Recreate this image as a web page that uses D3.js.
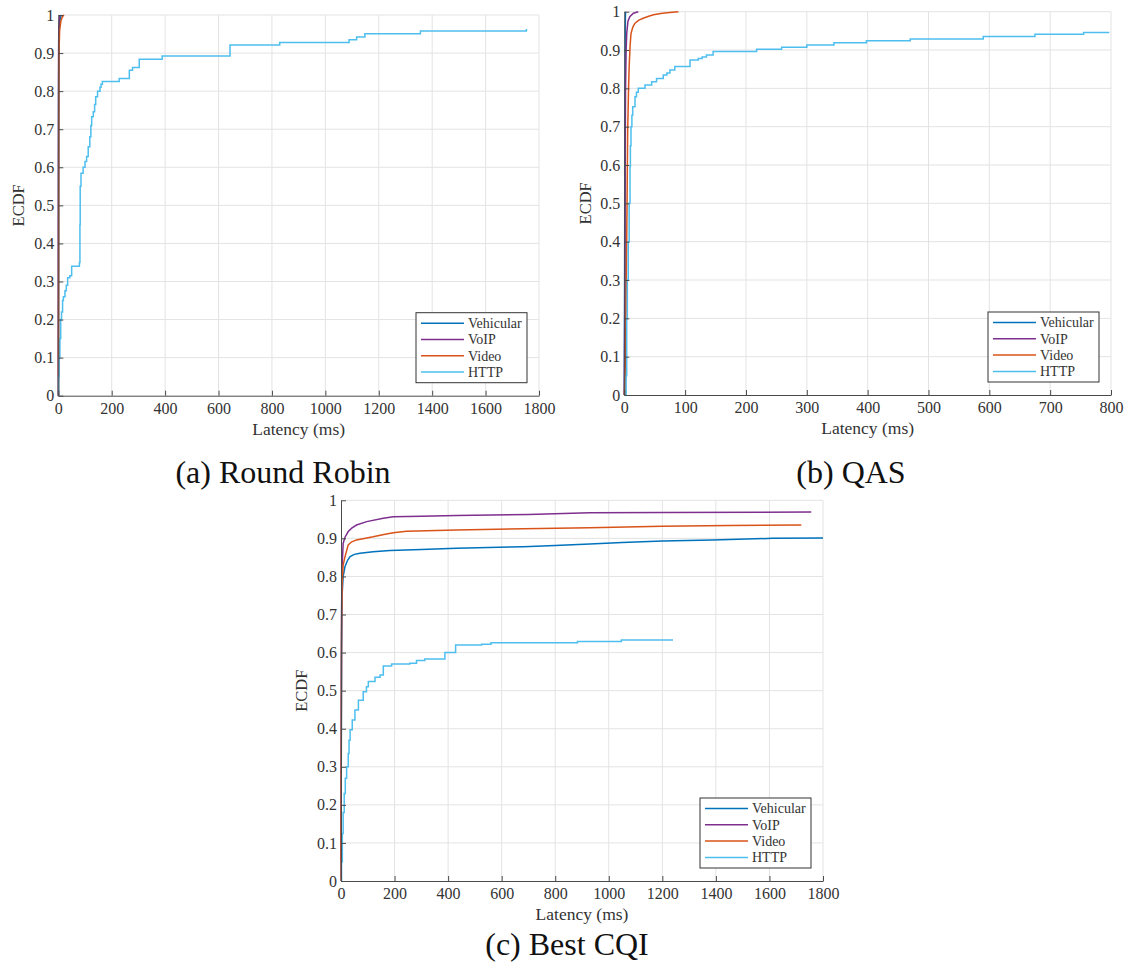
<!DOCTYPE html>
<html>
<head>
<meta charset="utf-8">
<script src="https://cdn.jsdelivr.net/npm/d3@7"></script>
<style>
  body { margin: 0; background: #fff; }
  svg text { font-family: "Liberation Serif", "Times New Roman", serif; }
</style>
</head>
<body>
<svg id="fig" width="1126" height="976"></svg>
<script>
'use strict';

// ---- data: [latency ms, ECDF] ----
var seriesNames = ["Vehicular", "VoIP", "Video", "HTTP"];
var seriesColors = ["#0072BD", "#7E2F8E", "#D95319", "#4DBEEE"];
var yTicks = [0, 0.1, 0.2, 0.3, 0.4, 0.5, 0.6, 0.7, 0.8, 0.9, 1];
var xTicksLong = [0, 200, 400, 600, 800, 1000, 1200, 1400, 1600, 1800];
var xTicksQas = [0, 100, 200, 300, 400, 500, 600, 700, 800];

// (a) Round Robin
var rrVehicular = [[0,0],[0.5,0.5],[1,0.8],[2,0.9],[4,0.97],[7,0.99],[11,1]];
var rrVoip = [[0,0],[0.5,0.6],[1,0.9],[2,0.97],[4,0.99],[6,1]];
var rrVideo = [[0,0],[0.8,0.3],[1.5,0.7],[2.5,0.9],[5,0.96],[10,0.985],[15,0.995],[21,1]];
var rrHttp = [[0,0],[1,0.05],[3,0.1],[6,0.15],[9,0.2],[12,0.22],[16,0.25],[19,0.26],[25,0.276],
  [30,0.29],[35,0.31],[43,0.315],[50,0.34],[79,0.35],[81,0.45],[82,0.55],[85,0.584],[93,0.6],
  [100,0.615],[106,0.628],[112,0.654],[118,0.68],[122,0.71],[125,0.733],[131,0.746],[136,0.765],
  [140,0.785],[147,0.8],[156,0.81],[160,0.818],[165,0.825],[228,0.833],[266,0.855],[278,0.862],
  [303,0.884],[389,0.892],[643,0.921],[829,0.928],[1089,0.935],[1117,0.942],[1148,0.951],
  [1356,0.958],[1753,0.963]];

// (b) QAS
var qasVehicular = [[0,0],[0.5,0.3],[1,0.7],[1.5,0.95],[2,1]];
var qasVoip = [[0,0],[1,0.3],[1.5,0.6],[2,0.796],[3,0.9],[4,0.944],[6,0.975],[9,0.987],[15,0.996],[23,1]];
var qasVideo = [[0,0],[2,0.1],[3,0.27],[4,0.404],[5.5,0.683],[7,0.8],[8,0.857],[9.5,0.91],[11,0.943],
  [14,0.96],[17.6,0.97],[24,0.978],[31,0.983],[40,0.988],[48,0.992],[60,0.995],[70,0.997],[89,1]];
var qasHttp = [[0,0],[3,0.05],[4,0.2],[5,0.3],[6.5,0.4],[8,0.5],[9.4,0.596],[10,0.65],[11,0.7],
  [12.5,0.73],[13.8,0.752],[17.6,0.778],[20,0.79],[23,0.8],[34,0.809],[45,0.817],[53,0.826],
  [64,0.835],[70,0.84],[75,0.848],[83,0.857],[108,0.874],[121.6,0.878],[128,0.882],[135,0.887],
  [146,0.896],[217.5,0.902],[258.6,0.907],[300,0.913],[344.6,0.919],[398,0.924],[470,0.929],
  [590,0.935],[675,0.941],[755,0.946],[796,0.948]];

// (c) Best CQI
var cqiVehicular = [[0,0],[1,0.3],[2,0.6],[4,0.75],[8,0.8],[15,0.826],[25,0.843],[34,0.852],[50,0.858],
  [71,0.861],[120,0.865],[183,0.868],[300,0.871],[431,0.874],[550,0.876],[680,0.878],[800,0.881],
  [929,0.885],[1050,0.889],[1200,0.893],[1387,0.896],[1612,0.9],[1800,0.901]];
var cqiVoip = [[0,0],[1,0.4],[2,0.7],[4,0.82],[8,0.887],[15,0.903],[27,0.918],[40,0.927],[58,0.935],
  [96,0.944],[158,0.953],[195,0.957],[300,0.958],[431,0.96],[700,0.963],[929,0.967],[1200,0.968],[1756,0.969]];
var cqiVideo = [[0,0],[1,0.35],[2,0.65],[4,0.78],[8,0.83],[15,0.852],[27,0.883],[40,0.891],[58,0.896],
  [120,0.904],[160,0.91],[195,0.915],[245,0.919],[431,0.922],[680,0.925],[929,0.928],[1200,0.932],
  [1450,0.934],[1719,0.935]];
var cqiHttp = [[0,0],[2,0.05],[5,0.125],[8,0.18],[12,0.23],[16,0.27],[21,0.3],[27,0.335],[30,0.37],
  [34,0.397],[42,0.423],[52,0.449],[65,0.475],[83,0.497],[95,0.51],[102,0.524],[127,0.535],[146,0.541],
  [158,0.565],[189,0.57],[257,0.572],[282,0.579],[313,0.583],[388,0.6],[428,0.62],[525,0.622],
  [560,0.626],[883,0.629],[1047,0.633],[1240,0.633]];

var svg = d3.select("#fig");
var axisColor = "#4a4a4a", gridColor = "#e3e3e3", textColor = "#333";

function drawPanel(cfg){
  var x = d3.scaleLinear().domain([0, cfg.xMax]).range([cfg.left, cfg.right]);
  var y = d3.scaleLinear().domain([0, 1]).range([cfg.bottom, cfg.top]);
  var g = svg.append("g");

  // grid
  g.append("g").selectAll("line").data(cfg.xTicks.slice(1)).enter().append("line")
    .attr("x1", function(d){ return x(d); }).attr("x2", function(d){ return x(d); })
    .attr("y1", cfg.top).attr("y2", cfg.bottom)
    .attr("stroke", gridColor).attr("stroke-width", 1);
  g.append("g").selectAll("line").data(yTicks.slice(1)).enter().append("line")
    .attr("x1", cfg.left).attr("x2", cfg.right)
    .attr("y1", function(d){ return y(d); }).attr("y2", function(d){ return y(d); })
    .attr("stroke", gridColor).attr("stroke-width", 1);

  // curves (HTTP drawn as a staircase)
  cfg.series.forEach(function(s, i){
    var line = d3.line()
      .x(function(d){ return x(d[0]); })
      .y(function(d){ return y(d[1]); })
      .curve(i === 3 ? d3.curveStepAfter : d3.curveLinear);
    g.append("path").datum(s)
      .attr("d", line)
      .attr("fill", "none")
      .attr("stroke", seriesColors[i])
      .attr("stroke-width", 1.5);
  });

  // axes
  var xa = g.append("g").attr("transform", "translate(0," + cfg.bottom + ")")
    .call(d3.axisBottom(x).tickValues(cfg.xTicks).tickFormat(d3.format("d"))
      .tickSizeInner(-5).tickSizeOuter(0).tickPadding(7));
  var ya = g.append("g").attr("transform", "translate(" + cfg.left + ",0)")
    .call(d3.axisLeft(y).tickValues(yTicks).tickFormat(function(d){ return d === 0 || d === 1 ? d : d.toFixed(1); })
      .tickSizeInner(-5).tickSizeOuter(0).tickPadding(4));
  [xa, ya].forEach(function(a){
    a.select(".domain").attr("stroke", axisColor);
    a.selectAll(".tick line").attr("stroke", axisColor);
    a.selectAll("text").attr("fill", textColor)
      .style("font-family", "'Liberation Serif', serif").style("font-size", "16px");
  });

  g.append("text")
    .attr("x", (cfg.left + cfg.right) / 2).attr("y", cfg.bottom + 39)
    .attr("text-anchor", "middle").attr("fill", textColor)
    .style("font-size", "17.5px").text("Latency (ms)");
  g.append("text")
    .attr("transform", "translate(" + cfg.ylabX + "," + ((cfg.top + cfg.bottom) / 2) + ") rotate(-90)")
    .attr("text-anchor", "middle").attr("dy", "0.35em").attr("fill", textColor)
    .style("font-size", "16.5px").text("ECDF");

  // legend
  var lw = 111, lh = 70;
  var lx = cfg.right - 12 - lw, ly = cfg.bottom - 13 - lh;
  var leg = g.append("g").attr("transform", "translate(" + lx + "," + ly + ")");
  leg.append("rect").attr("width", lw).attr("height", lh)
    .attr("fill", "#fff").attr("stroke", "#333").attr("stroke-width", 1);
  seriesNames.forEach(function(n, i){
    var ry = 10.5 + i * 16.3;
    leg.append("line").attr("x1", 5).attr("x2", 48).attr("y1", ry).attr("y2", ry)
      .attr("stroke", seriesColors[i]).attr("stroke-width", 1.5);
    leg.append("text").attr("x", 52).attr("y", ry).attr("dy", "0.35em")
      .attr("fill", textColor).style("font-size", "14px").text(n);
  });

  svg.append("text")
    .attr("x", cfg.capX).attr("y", cfg.capY)
    .attr("text-anchor", "middle").attr("fill", "#111")
    .style("font-size", "32px").text(cfg.caption);
}

drawPanel({left: 58.3, right: 539, top: 15, bottom: 395.7, xMax: 1800, xTicks: xTicksLong,
  series: [rrVehicular, rrVoip, rrVideo, rrHttp], ylabX: 18,
  caption: "(a) Round Robin", capX: 283, capY: 483});
drawPanel({left: 624.3, right: 1111, top: 11.7, bottom: 395, xMax: 800, xTicks: xTicksQas,
  series: [qasVehicular, qasVoip, qasVideo, qasHttp], ylabX: 585,
  caption: "(b) QAS", capX: 851, capY: 483});
drawPanel({left: 341, right: 823, top: 500.3, bottom: 881, xMax: 1800, xTicks: xTicksLong,
  series: [cqiVehicular, cqiVoip, cqiVideo, cqiHttp], ylabX: 301.5,
  caption: "(c) Best CQI", capX: 567, capY: 955});
</script>
</body>
</html>
